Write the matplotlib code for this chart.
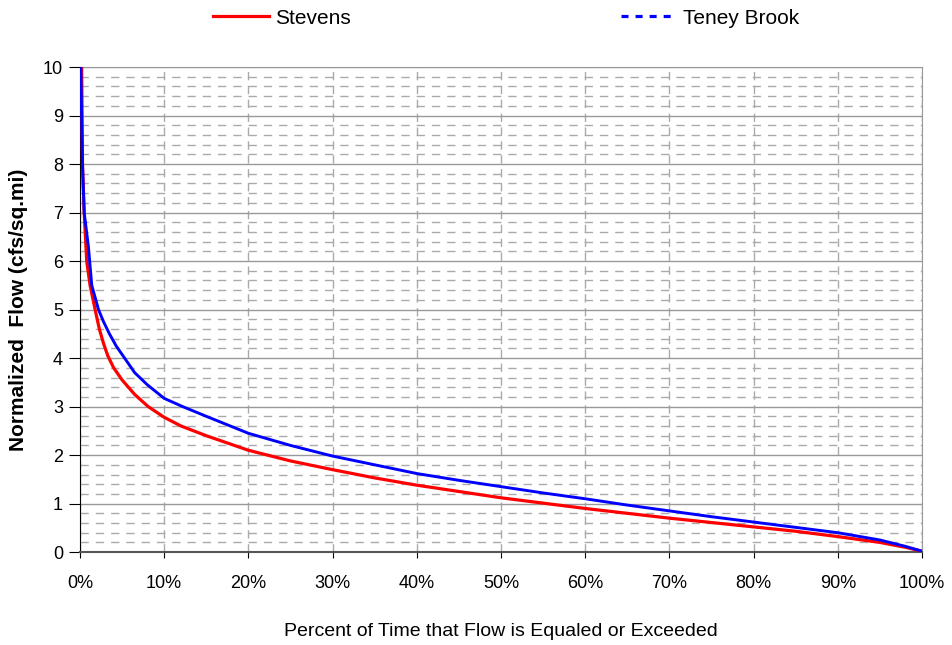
import matplotlib
matplotlib.use("Agg")
from matplotlib import pyplot as plt
from matplotlib.lines import Line2D
from matplotlib.ticker import MultipleLocator, FuncFormatter

plt.rcParams['font.family'] = ['Liberation Sans', 'DejaVu Sans']

# flow duration curves (percent exceeded, cfs/sq.mi)
stevens_pct = [0.2, 0.3, 0.5, 0.8, 1.2, 1.8, 2.3, 2.8, 3.3, 4, 5, 6.5, 8.1, 10, 12, 15, 20, 25,
               30, 35, 40, 45, 50, 55, 60, 65, 70, 75, 80, 85, 90, 95, 98, 100]
stevens_flow = [10, 8, 7, 6, 5.5, 5, 4.6, 4.3, 4.05, 3.8, 3.55, 3.25, 3.0, 2.78, 2.6, 2.4, 2.1, 1.88,
                1.7, 1.53, 1.38, 1.25, 1.12, 1.01, 0.9, 0.8, 0.7, 0.61, 0.52, 0.43, 0.32, 0.2, 0.1, 0.02]
teney_pct = [0.1, 0.3, 0.5, 1.0, 1.4, 2.2, 2.8, 3.5, 4.3, 5.3, 6.5, 8, 10, 12.2, 15, 20, 25,
             30, 35, 40, 45, 50, 55, 60, 65, 70, 75, 80, 85, 90, 95, 98, 100]
teney_flow = [10, 8, 7, 6.3, 5.5, 5, 4.75, 4.5, 4.25, 4.0, 3.7, 3.45, 3.17, 3.0, 2.8, 2.45, 2.2,
              1.98, 1.8, 1.62, 1.48, 1.35, 1.22, 1.1, 0.97, 0.85, 0.73, 0.62, 0.51, 0.4, 0.25, 0.12, 0.02]

fig = plt.figure(figsize=(9.52, 6.45), dpi=100)
ax = fig.add_axes([0.084, 0.144, 0.8845, 0.752])

ax.plot(stevens_pct, stevens_flow, color="#ff0000", lw=2.3, zorder=3)
ax.plot(teney_pct, teney_flow, color="#0000ff", lw=2.1, zorder=4)

ax.set_xlim(0, 100)
ax.set_ylim(0, 10)
ax.xaxis.set_major_locator(MultipleLocator(10))
ax.yaxis.set_major_locator(MultipleLocator(1))
ax.yaxis.set_minor_locator(MultipleLocator(0.2))
ax.xaxis.set_major_formatter(FuncFormatter(lambda v, p: "%d%%" % v))

ax.grid(which="major", axis="y", color="#999999", lw=1, ls="-")
ax.grid(which="minor", axis="y", color="#aaaaaa", lw=1, ls=(0, (6, 5)))
ax.grid(which="major", axis="x", color="#aaaaaa", lw=1, ls=(0, (6, 4)))
ax.set_axisbelow(True)

ax.tick_params(which="major", direction="out", labelsize=13, colors="black")
ax.tick_params(which="minor", length=0)
ax.tick_params(axis="x", length=4.5, pad=12)
ax.tick_params(axis="y", length=8, pad=4.3)
for s in ["top", "right"]:
    ax.spines[s].set_color("#999999")
ax.spines["bottom"].set_color("#555555")
ax.spines["bottom"].set_linewidth(1.5)

ax.set_ylabel("Normalized  Flow (cfs/sq.mi)", fontsize=15, fontweight="bold", labelpad=10.5)
ax.set_xlabel("Percent of Time that Flow is Equaled or Exceeded", fontsize=14, labelpad=22)

handles = [Line2D([], [], color="#ff0000", lw=2.3),
           Line2D([], [], color="#0000ff", lw=2.3, ls=(0, (2.2, 2.2)))]
fig.legend(handles, ["Stevens", "Teney Brook"], loc="center", bbox_to_anchor=(0.5315, 0.972),
           ncol=2, frameon=False, fontsize=15, columnspacing=13, handlelength=2.7,
           handletextpad=0.25, borderpad=0)

fig.savefig("out.png", dpi=100)
